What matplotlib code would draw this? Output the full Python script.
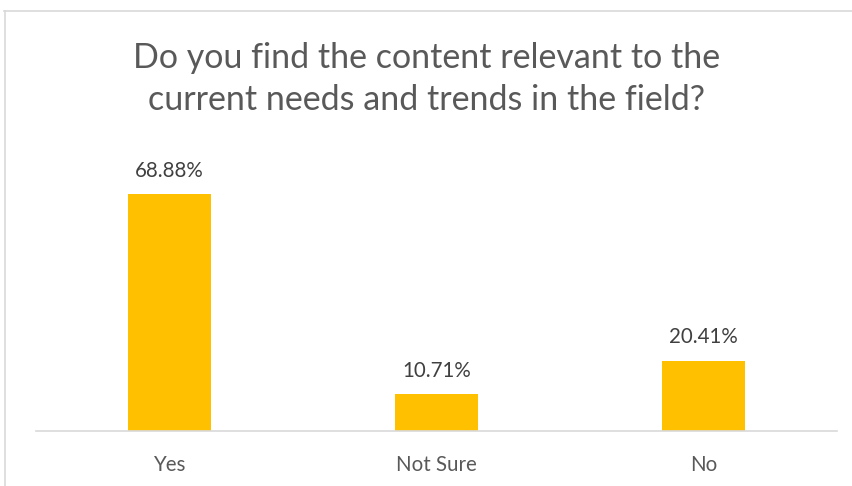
import matplotlib
matplotlib.use('Agg')
import matplotlib.pyplot as plt
from matplotlib.lines import Line2D

# survey answers
categories = ['Yes', 'Not Sure', 'No']
shares = [68.88, 10.71, 20.41]
labels = ['68.88%', '10.71%', '20.41%']
title = 'Do you find the content relevant to the\ncurrent needs and trends in the field?'

W, H = 853, 486
plt.rcParams['font.family'] = ['Lato', 'DejaVu Sans']
text_col = '#595959'

fig = plt.figure(figsize=(W / 100, H / 100), dpi=100)

# plot area in pixel coords
left, right, top, base = 36, 837, 156, 431
ax = fig.add_axes([left / W, (H - base) / H, (right - left) / W, (base - top) / H])

x = list(range(len(categories)))
ax.bar(x, shares, width=0.313, color='#FFC000')
ax.set_xlim(-0.5, 2.5)
ax.set_ylim(0, 80)
for xi, v, lab in zip(x, shares, labels):
    ax.annotate(lab, (xi, v), xytext=(0, 17), textcoords='offset points',
                ha='center', va='center', fontsize=14.8, color='#404040')

ax.set_xticks(x)
ax.set_xticklabels(categories, fontsize=14.8, color=text_col)
ax.tick_params(axis='x', length=0, pad=17)
ax.set_yticks([])
for s in ['top', 'right', 'left']:
    ax.spines[s].set_visible(False)
ax.spines['bottom'].set_color('#D9D9D9')
ax.spines['bottom'].set_linewidth(1.2)

fig.text(0.5, 1 - 79 / H, title, ha='center', va='center', fontsize=24.5,
         color=text_col, linespacing=1.36)

# chart border (top and left edges visible)
fig.add_artist(Line2D([4 / W, 1], [1 - 11.5 / H] * 2, color='#D9D9D9', lw=1.2,
                      transform=fig.transFigure))
fig.add_artist(Line2D([5.5 / W] * 2, [1 - 11.5 / H, 0], color='#D9D9D9', lw=1.2,
                      transform=fig.transFigure))

fig.savefig('out.png', dpi=100)
